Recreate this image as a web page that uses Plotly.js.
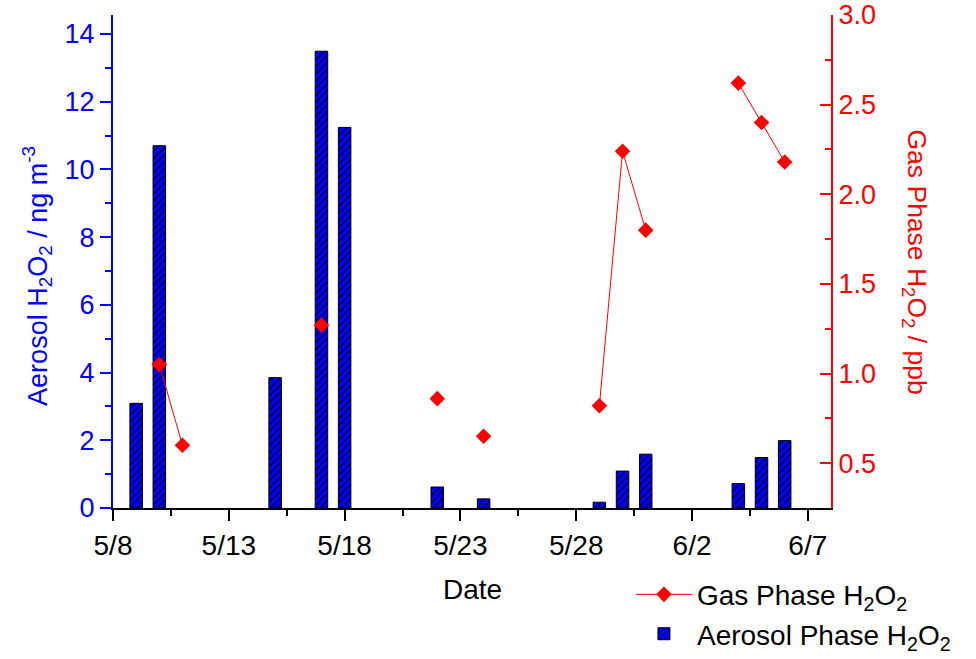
<!DOCTYPE html>
<html>
<head>
<meta charset="utf-8">
<script src="https://cdn.plot.ly/plotly-3.0.1.min.js"></script>
<style>html,body{margin:0;padding:0;background:#fff;}#chart{width:976px;height:659px;}</style>
</head>
<body>
<div id="chart"></div>
<script>
// Aerosol phase H2O2 (ng m-3), left axis
const aerosolDates = ['2009-05-09','2009-05-10','2009-05-15','2009-05-17','2009-05-18','2009-05-22','2009-05-24','2009-05-29','2009-05-30','2009-05-31','2009-06-04','2009-06-05','2009-06-06'];
const aerosolValues = [3.09, 10.70, 3.85, 13.49, 11.24, 0.62, 0.27, 0.17, 1.09, 1.59, 0.72, 1.49, 1.99];

// Gas phase H2O2 (ppb), right axis; null = no measurement (line break)
const gasDates = ['2009-05-10','2009-05-11','2009-05-12','2009-05-17','2009-05-18','2009-05-22','2009-05-23','2009-05-24','2009-05-25','2009-05-29','2009-05-30','2009-05-31','2009-06-01','2009-06-04','2009-06-05','2009-06-06'];
const gasValues = [1.05, 0.60, null, 1.27, null, 0.86, null, 0.65, null, 0.82, 2.24, 1.80, null, 2.62, 2.40, 2.18];

const DAY = 86400000;
const FONT = 'Liberation Sans, Arial, sans-serif';

const gasTrace = {
  x: gasDates, y: gasValues, yaxis: 'y2', type: 'scatter', mode: 'lines+markers',
  name: 'Gas Phase H<sub>2</sub>O<sub>2</sub>',
  connectgaps: false,
  line: {color: '#ff0000', width: 1},
  marker: {symbol: 'diamond', size: 12, color: '#ff0000'}
};
const aerosolTrace = {
  x: aerosolDates, y: aerosolValues, type: 'bar', yaxis: 'y',
  name: 'Aerosol Phase H<sub>2</sub>O<sub>2</sub>',
  width: 0.54 * DAY,
  marker: {
    color: '#0000ff',
    line: {color: '#000000', width: 1},
    pattern: {shape: '/', fgcolor: '#000000', bgcolor: '#0000ff', size: 5, solidity: 0.22}
  }
};

const layout = {
  width: 976, height: 659,
  margin: {l: 113, r: 145, t: 15, b: 151, autoexpand: false},
  paper_bgcolor: '#fff', plot_bgcolor: '#fff',
  font: {family: FONT, size: 26, color: '#000'},
  showlegend: true,
  legend: {
    x: 0.7214, y: -0.125, xanchor: 'left', yanchor: 'top',
    itemwidth: 56, tracegroupgap: 0,
    font: {family: FONT, size: 28, color: '#000'},
    bgcolor: 'rgba(0,0,0,0)', traceorder: 'normal'
  },
  xaxis: {
    type: 'date',
    range: ['2009-05-08', '2009-06-08'],
    tick0: '2009-05-08', dtick: 5 * DAY,
    tickformat: '%-m/%-d',
    ticks: 'outside', ticklen: 11, tickwidth: 2, tickcolor: '#000',
    minor: {dtick: 2.5 * DAY, tick0: '2009-05-08', ticks: 'outside', ticklen: 6, tickwidth: 2, tickcolor: '#000', showgrid: false},
    showline: true, linecolor: '#000', linewidth: 2,
    showgrid: false, zeroline: false,
    tickfont: {family: FONT, size: 28, color: '#000'}
  },
  yaxis: {
    range: [0, 14.56],
    tick0: 0, dtick: 2,
    ticks: 'outside', ticklen: 11, tickwidth: 2, tickcolor: '#0000ff',
    minor: {dtick: 1, ticks: 'outside', ticklen: 6, tickwidth: 2, tickcolor: '#0000ff', showgrid: false},
    showline: true, linecolor: '#0000ff', linewidth: 2,
    showgrid: false, zeroline: false,
    tickfont: {family: FONT, size: 27, color: '#0000ff'}
  },
  yaxis2: {
    overlaying: 'y', side: 'right', anchor: 'x',
    range: [0.25, 3.0],
    tick0: 0, dtick: 0.5, tickformat: '.1f',
    ticks: 'inside', ticklen: 11, tickwidth: 2, tickcolor: '#ff0000',
    minor: {dtick: 0.25, ticks: 'inside', ticklen: 6, tickwidth: 2, tickcolor: '#ff0000', showgrid: false},
    showline: true, linecolor: '#ff0000', linewidth: 2,
    showgrid: false, zeroline: false,
    tickfont: {family: FONT, size: 27, color: '#ff0000'}
  },
  annotations: [
    {text: 'Aerosol H<sub>2</sub>O<sub>2</sub> / ng m<sup>-3</sup>', xref: 'paper', yref: 'paper',
     x: -0.105, y: 0.47, xanchor: 'center', yanchor: 'middle', textangle: -90, showarrow: false,
     font: {family: FONT, size: 27, color: '#0000ff'}},
    {text: 'Gas Phase H<sub>2</sub>O<sub>2</sub> / ppb', xref: 'paper', yref: 'paper',
     x: 1.117, y: 0.5, xanchor: 'center', yanchor: 'middle', textangle: 90, showarrow: false,
     font: {family: FONT, size: 26.5, color: '#ff0000'}},
    {text: 'Date', xref: 'paper', yref: 'paper',
     x: 0.5, y: -0.166, xanchor: 'center', yanchor: 'middle', showarrow: false,
     font: {family: FONT, size: 28, color: '#000'}}
  ]
};

Plotly.newPlot('chart', [gasTrace, aerosolTrace], layout, {displayModeBar: false, staticPlot: true});
</script>
</body>
</html>
